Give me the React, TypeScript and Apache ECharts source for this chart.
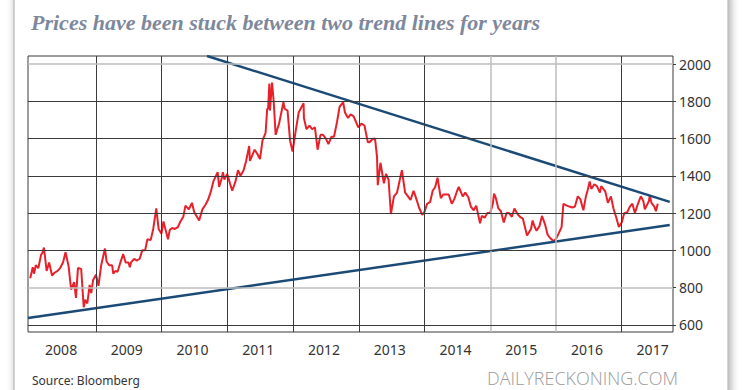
import React, { useEffect, useRef } from "react";
import * as echarts from "echarts";

const goldPrices: [string, number][] = [
  ["2008-01-01", 850], ["2008-01-08", 880], ["2008-01-15", 910], ["2008-01-22", 875], ["2008-02-01", 920],
  ["2008-02-15", 905], ["2008-03-01", 975], ["2008-03-10", 990], ["2008-03-17", 1015], ["2008-04-01", 890],
  ["2008-04-15", 935], ["2008-05-01", 865], ["2008-05-15", 880], ["2008-06-01", 890], ["2008-06-15", 905],
  ["2008-07-01", 935], ["2008-07-15", 990], ["2008-08-01", 915], ["2008-08-15", 790], ["2008-09-01", 830],
  ["2008-09-11", 745], ["2008-09-22", 905], ["2008-10-10", 900], ["2008-10-24", 695], ["2008-11-01", 735],
  ["2008-11-13", 715], ["2008-11-26", 815], ["2008-12-05", 770], ["2008-12-15", 840], ["2008-12-31", 870],
  ["2009-01-15", 810], ["2009-01-30", 920], ["2009-02-20", 1010], ["2009-03-01", 940], ["2009-03-15", 920],
  ["2009-04-01", 920], ["2009-04-07", 875], ["2009-04-20", 890], ["2009-05-01", 885], ["2009-05-15", 930],
  ["2009-06-01", 980], ["2009-06-15", 935], ["2009-07-01", 935], ["2009-07-08", 910], ["2009-07-15", 935],
  ["2009-08-01", 955], ["2009-08-15", 945], ["2009-09-01", 955], ["2009-09-15", 1000], ["2009-10-01", 1000],
  ["2009-10-14", 1060], ["2009-11-01", 1055], ["2009-11-15", 1115], ["2009-12-02", 1225], ["2009-12-15", 1115],
  ["2009-12-31", 1090],
  ["2010-01-11", 1155], ["2010-02-05", 1060], ["2010-02-15", 1110], ["2010-03-01", 1120], ["2010-03-15", 1115],
  ["2010-04-01", 1125], ["2010-04-15", 1155], ["2010-05-01", 1180], ["2010-05-13", 1240], ["2010-06-01", 1220],
  ["2010-06-18", 1255], ["2010-07-01", 1205], ["2010-07-28", 1160], ["2010-08-15", 1220], ["2010-09-01", 1245],
  ["2010-09-15", 1270], ["2010-10-01", 1315], ["2010-10-15", 1370], ["2010-11-08", 1420], ["2010-11-16", 1340],
  ["2010-12-01", 1390], ["2010-12-07", 1420], ["2010-12-15", 1380], ["2010-12-31", 1410],
  ["2011-01-15", 1360], ["2011-01-28", 1320], ["2011-02-15", 1370], ["2011-03-01", 1430], ["2011-03-15", 1400],
  ["2011-04-01", 1430], ["2011-04-15", 1480], ["2011-05-02", 1560], ["2011-05-06", 1480], ["2011-05-15", 1500],
  ["2011-06-01", 1540], ["2011-06-15", 1520], ["2011-07-01", 1490], ["2011-07-15", 1590], ["2011-08-01", 1630],
  ["2011-08-10", 1760], ["2011-08-15", 1760], ["2011-08-22", 1895], ["2011-08-25", 1750], ["2011-09-06", 1900],
  ["2011-09-15", 1800], ["2011-09-26", 1620], ["2011-10-05", 1650], ["2011-10-15", 1680], ["2011-11-08", 1795],
  ["2011-11-15", 1760], ["2011-12-01", 1750], ["2011-12-15", 1590], ["2011-12-29", 1530],
  ["2012-01-15", 1640], ["2012-02-01", 1740], ["2012-02-28", 1790], ["2012-03-01", 1710], ["2012-03-15", 1650],
  ["2012-04-01", 1670], ["2012-04-15", 1650], ["2012-05-01", 1660], ["2012-05-16", 1540], ["2012-06-01", 1620],
  ["2012-06-15", 1620], ["2012-07-01", 1600], ["2012-07-15", 1570], ["2012-08-01", 1610], ["2012-08-15", 1610],
  ["2012-09-01", 1690], ["2012-09-15", 1770], ["2012-10-05", 1795], ["2012-10-15", 1740], ["2012-11-01", 1710],
  ["2012-11-15", 1730], ["2012-12-01", 1720], ["2012-12-15", 1690], ["2012-12-28", 1660],
  ["2013-01-15", 1680], ["2013-02-01", 1670], ["2013-02-20", 1580], ["2013-03-01", 1580], ["2013-03-15", 1595],
  ["2013-04-01", 1600], ["2013-04-12", 1500], ["2013-04-16", 1350], ["2013-05-01", 1470], ["2013-05-20", 1360],
  ["2013-06-01", 1410], ["2013-06-15", 1380], ["2013-06-28", 1195], ["2013-07-15", 1290], ["2013-08-01", 1310],
  ["2013-08-28", 1430], ["2013-09-15", 1310], ["2013-10-01", 1290], ["2013-10-15", 1270], ["2013-11-01", 1320],
  ["2013-11-15", 1280], ["2013-12-01", 1230], ["2013-12-19", 1190], ["2013-12-31", 1205],
  ["2014-01-15", 1250], ["2014-02-01", 1260], ["2014-02-15", 1320], ["2014-03-01", 1340], ["2014-03-14", 1390],
  ["2014-04-01", 1280], ["2014-04-15", 1300], ["2014-05-01", 1300], ["2014-05-15", 1300], ["2014-06-01", 1250],
  ["2014-06-15", 1275], ["2014-07-01", 1320], ["2014-07-10", 1340], ["2014-08-01", 1290], ["2014-08-15", 1310],
  ["2014-09-01", 1285], ["2014-09-15", 1235], ["2014-10-01", 1215], ["2014-10-15", 1240], ["2014-11-05", 1145],
  ["2014-11-15", 1185], ["2014-12-01", 1175], ["2014-12-15", 1200], ["2014-12-31", 1200],
  ["2015-01-15", 1250], ["2015-01-22", 1305], ["2015-02-01", 1280], ["2015-02-15", 1225], ["2015-03-01", 1210],
  ["2015-03-17", 1150], ["2015-04-01", 1200], ["2015-04-15", 1200], ["2015-05-01", 1180], ["2015-05-15", 1225],
  ["2015-06-01", 1195], ["2015-06-15", 1180], ["2015-07-01", 1170], ["2015-07-24", 1080], ["2015-08-15", 1115],
  ["2015-08-24", 1160], ["2015-09-01", 1135], ["2015-09-15", 1105], ["2015-10-01", 1130], ["2015-10-15", 1185],
  ["2015-11-01", 1140], ["2015-11-15", 1085], ["2015-12-01", 1065], ["2015-12-17", 1050], ["2015-12-31", 1060],
  ["2016-01-15", 1090], ["2016-02-01", 1125], ["2016-02-11", 1250], ["2016-03-01", 1240], ["2016-03-15", 1235],
  ["2016-04-01", 1230], ["2016-04-15", 1235], ["2016-05-01", 1290], ["2016-05-15", 1275], ["2016-06-01", 1215],
  ["2016-06-15", 1290], ["2016-06-24", 1320], ["2016-07-06", 1370], ["2016-07-15", 1330], ["2016-08-01", 1355],
  ["2016-08-15", 1345], ["2016-09-01", 1310], ["2016-09-08", 1345], ["2016-10-01", 1315], ["2016-10-15", 1255],
  ["2016-11-01", 1290], ["2016-11-15", 1225], ["2016-12-01", 1175], ["2016-12-15", 1125], ["2016-12-31", 1150],
  ["2017-01-15", 1200], ["2017-02-01", 1205], ["2017-02-15", 1235], ["2017-03-01", 1250], ["2017-03-15", 1200],
  ["2017-04-01", 1250], ["2017-04-17", 1290], ["2017-05-01", 1265], ["2017-05-09", 1220], ["2017-06-01", 1265],
  ["2017-06-06", 1295], ["2017-06-15", 1255], ["2017-07-01", 1235], ["2017-07-10", 1210], ["2017-07-20", 1250],
];

// trend lines: [decimal year, price]
const upperTrend: [number, number][] = [[2010.69, 2043], [2017.73, 1260]];
const lowerTrend: [number, number][] = [[2007.966, 637], [2017.73, 1136]];

const yearLabels = [2008, 2009, 2010, 2011, 2012, 2013, 2014, 2015, 2016, 2017];
const yearBoundaries = [2009, 2010, 2011, 2012, 2013, 2014, 2015, 2016, 2017];
const lightYearBoundaries = [2015, 2016];
const priceTicks = [600, 800, 1000, 1200, 1400, 1600, 1800, 2000];
const lightPriceTicks = [800, 2000];

const X_MIN = 2007.966;
const X_MAX = 2017.78;
const Y_MIN = 562;
const Y_MAX = 2043;

function toDecimalYear(s: string): number {
  const [y, m, d] = s.split("-").map(Number);
  const start = Date.UTC(y, 0, 1);
  const t = Date.UTC(y, m - 1, d);
  return y + (t - start) / (365 * 86400000);
}

export default function App() {
  const ref = useRef<HTMLDivElement>(null);
  useEffect(() => {
    if (!ref.current) return;
    const chart = echarts.init(ref.current, null, { renderer: "svg" });
    const dark = "#3a3a3a";
    const light = "#bdbdbd";
    const priceData = goldPrices.map(([d, v]) => [toDecimalYear(d), v]);
    chart.setOption({
      animation: false,
      backgroundColor: "#ffffff",
      grid: {
        left: 28,
        right: 72,
        top: 56,
        bottom: 58,
        show: true,
        borderColor: dark,
        borderWidth: 1,
        backgroundColor: "transparent",
      },
      xAxis: {
        type: "value",
        min: X_MIN,
        max: X_MAX,
        axisLine: { show: false },
        axisTick: { show: false },
        splitLine: { show: false },
        axisLabel: {
          customValues: yearLabels.map((y) => y + 0.47),
          formatter: (v: number) => String(Math.floor(v)),
          color: "#333",
          fontFamily: "Noto Sans",
          fontSize: 14,
          margin: 10,
        },
      },
      yAxis: {
        type: "value",
        position: "right",
        min: Y_MIN,
        max: Y_MAX,
        axisLine: { show: false },
        splitLine: { show: false },
        axisTick: {
          show: true,
          customValues: priceTicks,
          length: 3,
          lineStyle: { color: dark },
        },
        axisLabel: {
          customValues: priceTicks,
          formatter: (v: number) => String(v),
          color: "#333",
          fontFamily: "Noto Sans",
          fontSize: 14,
          margin: 6,
        },
      },
      series: [
        {
          type: "line",
          data: [],
          silent: true,
          z: 1,
          markLine: {
            silent: true,
            symbol: "none",
            label: { show: false },
            data: [
              ...yearBoundaries.map((y) => ({
                xAxis: y,
                lineStyle: {
                  color: lightYearBoundaries.includes(y) ? light : dark,
                  width: lightYearBoundaries.includes(y) ? 1.5 : 1,
                  type: "solid",
                },
              })),
              ...priceTicks.map((p) => ({
                yAxis: p,
                lineStyle: {
                  color: lightPriceTicks.includes(p) ? light : dark,
                  width: lightPriceTicks.includes(p) ? 1.5 : 1,
                  type: "solid",
                },
              })),
            ],
          },
        },
        {
          type: "line",
          data: priceData,
          showSymbol: false,
          z: 3,
          lineStyle: { color: "#e8202a", width: 2 },
        },
        {
          type: "line",
          data: upperTrend,
          showSymbol: false,
          z: 4,
          lineStyle: { color: "#1b4a76", width: 2.5 },
        },
        {
          type: "line",
          data: lowerTrend,
          showSymbol: false,
          z: 4,
          lineStyle: { color: "#1b4a76", width: 2.5 },
        },
      ],
      graphic: [
        {
          type: "rect",
          z: -10,
          shape: { x: 14, y: -6, width: 714, height: 410 },
          style: {
            fill: "#ffffff",
            stroke: "#a8a8a8",
            lineWidth: 1,
            shadowBlur: 8,
            shadowOffsetX: 2,
            shadowColor: "rgba(0,0,0,0.35)",
          },
          silent: true,
        },
        {
          type: "text",
          left: 31,
          top: 11,
          style: {
            text: "Prices have been stuck between two trend lines for years",
            fill: "#7e889c",
            font: "italic bold 22px 'Liberation Serif'",
          },
        },
        {
          type: "text",
          left: 32,
          top: 374,
          style: {
            text: "Source: Bloomberg",
            fill: "#333",
            font: "12px 'Noto Sans'",
          },
        },
        {
          type: "text",
          left: 487,
          top: 369,
          style: {
            text: "DAILYRECKONING.COM",
            fill: "#9a9a9a",
            font: "300 18px 'Open Sans'",
          },
        },
      ],
    });
    return () => chart.dispose();
  }, []);
  return (
    <div
      ref={ref}
      style={{ position: "fixed", left: 0, top: 0, width: 745, height: 390 }}
    />
  );
}
